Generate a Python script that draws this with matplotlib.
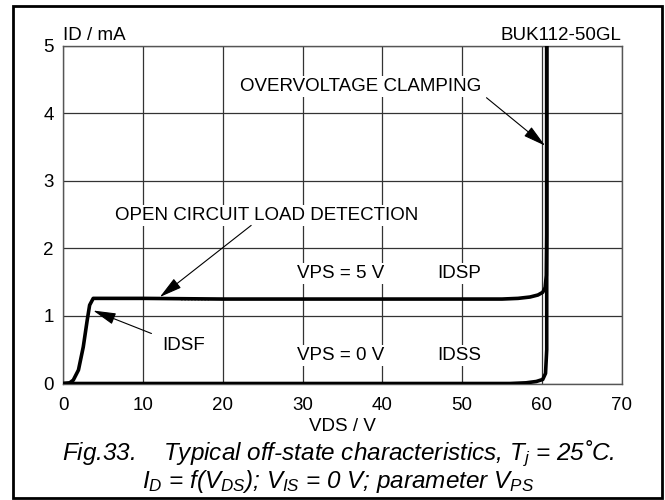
import matplotlib

matplotlib.use("Agg")
import matplotlib.pyplot as plt  # noqa: E402
from matplotlib.patches import Rectangle  # noqa: E402

plt.rcParams["font.family"] = ["Liberation Sans", "DejaVu Sans"]
plt.rcParams["mathtext.fontset"] = "custom"
plt.rcParams["mathtext.it"] = "Liberation Sans:italic"
plt.rcParams["mathtext.rm"] = "Liberation Sans:italic"

# VPS = 5 V (IDSP / IDSF) curve
vds_p = [0.0, 0.8, 1.25, 1.9, 2.5, 3.0, 3.3, 3.75, 4.3, 10, 20, 30, 40, 50, 55,
         57.0, 58.5, 59.5, 60.1, 60.4, 60.55, 60.6, 60.6]
id_p = [0.0, 0.01, 0.05, 0.2, 0.54, 0.94, 1.16, 1.26, 1.26, 1.26, 1.25, 1.25,
        1.25, 1.25, 1.25, 1.26, 1.28, 1.31, 1.35, 1.42, 1.6, 2.2, 5.0]

# VPS = 0 V (IDSS) curve
vds_s = [0.0, 10, 20, 30, 40, 50, 56.0, 58.0, 59.3, 60.1, 60.45, 60.6, 60.6]
id_s = [0.0, 0.0, 0.0, 0.0, 0.0, 0.0, 0.0, 0.01, 0.03, 0.06, 0.15, 0.5, 5.0]

# faint dotted trace under the plateau
vds_dot = [14.8, 18.3]
id_dot = [1.235, 1.235]

xticks = [0, 10, 20, 30, 40, 50, 60, 70]
yticks = [0, 1, 2, 3, 4, 5]

FS = 13.5

fig = plt.figure(figsize=(6.65, 5.0), dpi=100)
ax = fig.add_axes([0.0952, 0.233, 0.8397, 0.6756])

ax.plot(vds_p, id_p, color="k", lw=2.6, solid_capstyle="butt", zorder=4)
ax.plot(vds_s, id_s, color="k", lw=2.6, solid_capstyle="butt", zorder=4)
ax.plot(vds_dot, id_dot, color="#999999", lw=1.2, ls=(0, (1, 1)), zorder=3)

ax.set_xlim(0, 70)
ax.set_ylim(0, 5)
ax.set_xticks(xticks)
ax.set_yticks(yticks)
ax.tick_params(length=0, labelsize=FS, pad=7)
ax.tick_params(axis="x", pad=9.5)
ax.grid(True, color="#333333", lw=0.9)
ax.set_axisbelow(True)
for s in ax.spines.values():
    s.set_color("#555555")
    s.set_linewidth(1.0)
ax.set_xlabel("VDS / V", fontsize=FS, labelpad=3)

ax.text(0, 5.084, "ID / mA", fontsize=FS, ha="left", va="baseline")
ax.text(70, 5.084, "BUK112-50GL", fontsize=FS, ha="right", va="baseline")

box = dict(facecolor="white", edgecolor="none", pad=1.5)
ax.text(37.3, 4.40, "OVERVOLTAGE CLAMPING", fontsize=FS, ha="center", va="center", bbox=box)
ax.text(25.5, 2.49, "OPEN CIRCUIT LOAD DETECTION", fontsize=FS, ha="center", va="center", bbox=box)
ax.text(34.75, 1.625, "VPS = 5 V", fontsize=FS, ha="center", va="center", bbox=box)
ax.text(49.65, 1.625, "IDSP", fontsize=FS, ha="center", va="center", bbox=box)
ax.text(34.75, 0.41, "VPS = 0 V", fontsize=FS, ha="center", va="center", bbox=box)
ax.text(49.65, 0.41, "IDSS", fontsize=FS, ha="center", va="center", bbox=box)
ax.text(15.05, 0.56, "IDSF", fontsize=FS, ha="center", va="center", bbox=box)

arrow = dict(arrowstyle="-|>,head_length=0.7,head_width=0.18", color="k", lw=0.8,
             mutation_scale=20, shrinkA=0, shrinkB=0)
ax.annotate("", xy=(60.4, 3.52), xytext=(53.05, 4.23), arrowprops=arrow, zorder=5)
ax.annotate("", xy=(12.1, 1.28), xytext=(23.55, 2.34), arrowprops=arrow, zorder=5)
ax.annotate("", xy=(3.75, 1.08), xytext=(11.05, 0.74), arrowprops=arrow, zorder=5)

fig.text(0.509, 1 - 460 / 500, "Fig.33.    Typical off-state characteristics, $T_j$ = 25˚C.",
         fontsize=17.5, style="italic", ha="center", va="baseline")
fig.text(0.509, 1 - 488 / 500, "$I_D$ = f($V_{DS}$); $V_{IS}$ = 0 V; parameter $V_{PS}$",
         fontsize=17.5, style="italic", ha="center", va="baseline")

fig.patches.append(Rectangle((12.7 / 665, 2 / 500), 649 / 665, 492 / 500, transform=fig.transFigure,
                             fill=False, edgecolor="k", lw=2.0))

fig.savefig("out.png", dpi=100)
